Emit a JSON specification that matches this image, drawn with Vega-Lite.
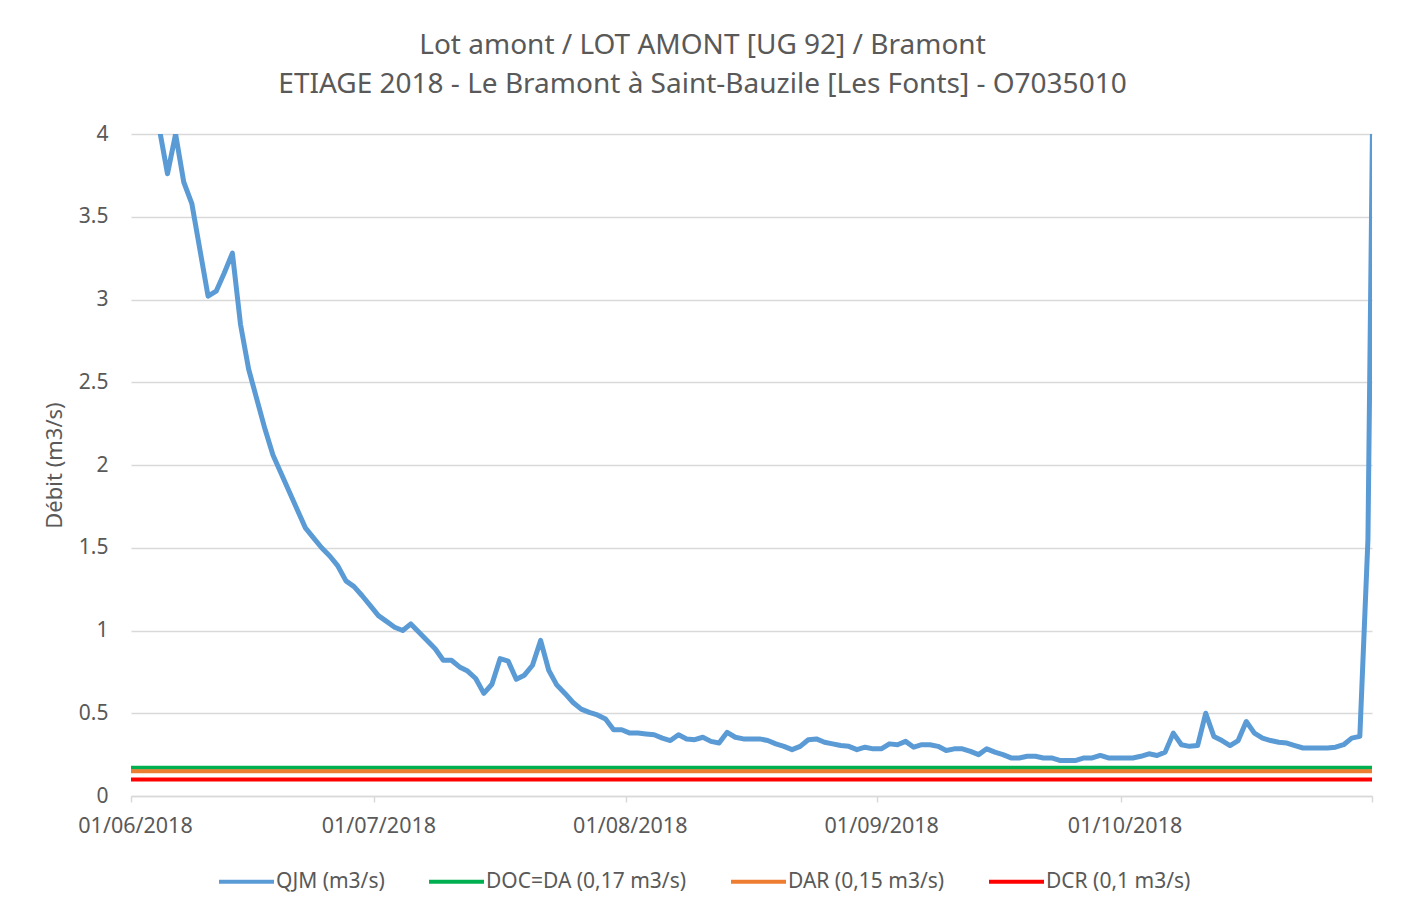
{
  "$schema": "https://vega.github.io/schema/vega-lite/v6.json",
  "width": 1241,
  "height": 662,
  "autosize": {"type": "none"},
  "padding": {"left": 131, "top": 134, "right": 35, "bottom": 120},
  "background": "white",
  "title": {
    "text": ["Lot amont / LOT AMONT [UG 92] / Bramont", "ETIAGE 2018 - Le Bramont à Saint-Bauzile [Les Fonts] - O7035010"],
    "font": "Noto Sans",
    "fontSize": 28,
    "fontWeight": "normal",
    "color": "#595959",
    "lineHeight": 39,
    "anchor": "middle",
    "dx": -49,
    "offset": 24
  },
  "datasets": {
    "seuils": [
      {"serie": "DOC=DA (0,17 m3/s)", "v": 0.17},
      {"serie": "DAR (0,15 m3/s)", "v": 0.15},
      {"serie": "DCR (0,1 m3/s)", "v": 0.1}
    ],
    "qjm": [
      {"date": "2018-06-01", "q": 5.2},
      {"date": "2018-06-02", "q": 4.8},
      {"date": "2018-06-03", "q": 4.4},
      {"date": "2018-06-04", "q": 4.03},
      {"date": "2018-06-05", "q": 3.76},
      {"date": "2018-06-06", "q": 4.0},
      {"date": "2018-06-07", "q": 3.71},
      {"date": "2018-06-08", "q": 3.58},
      {"date": "2018-06-09", "q": 3.3},
      {"date": "2018-06-10", "q": 3.02},
      {"date": "2018-06-11", "q": 3.05},
      {"date": "2018-06-12", "q": 3.16},
      {"date": "2018-06-13", "q": 3.28},
      {"date": "2018-06-14", "q": 2.85},
      {"date": "2018-06-15", "q": 2.58},
      {"date": "2018-06-16", "q": 2.4},
      {"date": "2018-06-17", "q": 2.22},
      {"date": "2018-06-18", "q": 2.06},
      {"date": "2018-06-19", "q": 1.95},
      {"date": "2018-06-20", "q": 1.84},
      {"date": "2018-06-21", "q": 1.73},
      {"date": "2018-06-22", "q": 1.62},
      {"date": "2018-06-23", "q": 1.56},
      {"date": "2018-06-24", "q": 1.5},
      {"date": "2018-06-25", "q": 1.45},
      {"date": "2018-06-26", "q": 1.39},
      {"date": "2018-06-27", "q": 1.3},
      {"date": "2018-06-28", "q": 1.265},
      {"date": "2018-06-29", "q": 1.21},
      {"date": "2018-06-30", "q": 1.15},
      {"date": "2018-07-01", "q": 1.09},
      {"date": "2018-07-02", "q": 1.055},
      {"date": "2018-07-03", "q": 1.02},
      {"date": "2018-07-04", "q": 1.0},
      {"date": "2018-07-05", "q": 1.04},
      {"date": "2018-07-06", "q": 0.99},
      {"date": "2018-07-07", "q": 0.94},
      {"date": "2018-07-08", "q": 0.89},
      {"date": "2018-07-09", "q": 0.82},
      {"date": "2018-07-10", "q": 0.82},
      {"date": "2018-07-11", "q": 0.78},
      {"date": "2018-07-12", "q": 0.755},
      {"date": "2018-07-13", "q": 0.71},
      {"date": "2018-07-14", "q": 0.62},
      {"date": "2018-07-15", "q": 0.675},
      {"date": "2018-07-16", "q": 0.83},
      {"date": "2018-07-17", "q": 0.815},
      {"date": "2018-07-18", "q": 0.705},
      {"date": "2018-07-19", "q": 0.73},
      {"date": "2018-07-20", "q": 0.79},
      {"date": "2018-07-21", "q": 0.94},
      {"date": "2018-07-22", "q": 0.76},
      {"date": "2018-07-23", "q": 0.67},
      {"date": "2018-07-24", "q": 0.62},
      {"date": "2018-07-25", "q": 0.565},
      {"date": "2018-07-26", "q": 0.525},
      {"date": "2018-07-27", "q": 0.505},
      {"date": "2018-07-28", "q": 0.49},
      {"date": "2018-07-29", "q": 0.465},
      {"date": "2018-07-30", "q": 0.4},
      {"date": "2018-07-31", "q": 0.4},
      {"date": "2018-08-01", "q": 0.38},
      {"date": "2018-08-02", "q": 0.38},
      {"date": "2018-08-03", "q": 0.375},
      {"date": "2018-08-04", "q": 0.37},
      {"date": "2018-08-05", "q": 0.35},
      {"date": "2018-08-06", "q": 0.335},
      {"date": "2018-08-07", "q": 0.37},
      {"date": "2018-08-08", "q": 0.345},
      {"date": "2018-08-09", "q": 0.34},
      {"date": "2018-08-10", "q": 0.355},
      {"date": "2018-08-11", "q": 0.33},
      {"date": "2018-08-12", "q": 0.32},
      {"date": "2018-08-13", "q": 0.385},
      {"date": "2018-08-14", "q": 0.355},
      {"date": "2018-08-15", "q": 0.345},
      {"date": "2018-08-16", "q": 0.345},
      {"date": "2018-08-17", "q": 0.345},
      {"date": "2018-08-18", "q": 0.335},
      {"date": "2018-08-19", "q": 0.315},
      {"date": "2018-08-20", "q": 0.3},
      {"date": "2018-08-21", "q": 0.28},
      {"date": "2018-08-22", "q": 0.3},
      {"date": "2018-08-23", "q": 0.34},
      {"date": "2018-08-24", "q": 0.345},
      {"date": "2018-08-25", "q": 0.325},
      {"date": "2018-08-26", "q": 0.315},
      {"date": "2018-08-27", "q": 0.305},
      {"date": "2018-08-28", "q": 0.3},
      {"date": "2018-08-29", "q": 0.28},
      {"date": "2018-08-30", "q": 0.295},
      {"date": "2018-08-31", "q": 0.285},
      {"date": "2018-09-01", "q": 0.285},
      {"date": "2018-09-02", "q": 0.315},
      {"date": "2018-09-03", "q": 0.31},
      {"date": "2018-09-04", "q": 0.33},
      {"date": "2018-09-05", "q": 0.295},
      {"date": "2018-09-06", "q": 0.31},
      {"date": "2018-09-07", "q": 0.31},
      {"date": "2018-09-08", "q": 0.3},
      {"date": "2018-09-09", "q": 0.275},
      {"date": "2018-09-10", "q": 0.285},
      {"date": "2018-09-11", "q": 0.285},
      {"date": "2018-09-12", "q": 0.27},
      {"date": "2018-09-13", "q": 0.25},
      {"date": "2018-09-14", "q": 0.285},
      {"date": "2018-09-15", "q": 0.265},
      {"date": "2018-09-16", "q": 0.25},
      {"date": "2018-09-17", "q": 0.23},
      {"date": "2018-09-18", "q": 0.23},
      {"date": "2018-09-19", "q": 0.24},
      {"date": "2018-09-20", "q": 0.24},
      {"date": "2018-09-21", "q": 0.23},
      {"date": "2018-09-22", "q": 0.23},
      {"date": "2018-09-23", "q": 0.215},
      {"date": "2018-09-24", "q": 0.215},
      {"date": "2018-09-25", "q": 0.215},
      {"date": "2018-09-26", "q": 0.23},
      {"date": "2018-09-27", "q": 0.23},
      {"date": "2018-09-28", "q": 0.245},
      {"date": "2018-09-29", "q": 0.23},
      {"date": "2018-09-30", "q": 0.23},
      {"date": "2018-10-01", "q": 0.23},
      {"date": "2018-10-02", "q": 0.23},
      {"date": "2018-10-03", "q": 0.24},
      {"date": "2018-10-04", "q": 0.255},
      {"date": "2018-10-05", "q": 0.245},
      {"date": "2018-10-06", "q": 0.265},
      {"date": "2018-10-07", "q": 0.38},
      {"date": "2018-10-08", "q": 0.31},
      {"date": "2018-10-09", "q": 0.3},
      {"date": "2018-10-10", "q": 0.305},
      {"date": "2018-10-11", "q": 0.5},
      {"date": "2018-10-12", "q": 0.36},
      {"date": "2018-10-13", "q": 0.335},
      {"date": "2018-10-14", "q": 0.305},
      {"date": "2018-10-15", "q": 0.335},
      {"date": "2018-10-16", "q": 0.45},
      {"date": "2018-10-17", "q": 0.38},
      {"date": "2018-10-18", "q": 0.35},
      {"date": "2018-10-19", "q": 0.335},
      {"date": "2018-10-20", "q": 0.325},
      {"date": "2018-10-21", "q": 0.32},
      {"date": "2018-10-22", "q": 0.305},
      {"date": "2018-10-23", "q": 0.29},
      {"date": "2018-10-24", "q": 0.29},
      {"date": "2018-10-25", "q": 0.29},
      {"date": "2018-10-26", "q": 0.29},
      {"date": "2018-10-27", "q": 0.295},
      {"date": "2018-10-28", "q": 0.31},
      {"date": "2018-10-29", "q": 0.35},
      {"date": "2018-10-30", "q": 0.36},
      {"date": "2018-10-31", "q": 1.55},
      {"date": "2018-11-01", "q": 6.0}
    ]
  },
  "layer": [
    {
      "data": {"name": "seuils"},
      "mark": {"type": "rule", "strokeWidth": 4},
      "encoding": {
        "y": {"field": "v", "type": "quantitative"},
        "color": {
          "field": "serie",
          "type": "nominal",
          "scale": {
            "domain": ["QJM (m3/s)", "DOC=DA (0,17 m3/s)", "DAR (0,15 m3/s)", "DCR (0,1 m3/s)"],
            "range": ["#5b9bd5", "#00b050", "#ed7d31", "#ff0000"]
          },
          "legend": {
            "title": null,
            "orient": "none",
            "direction": "horizontal",
            "legendX": 86,
            "legendY": 718,
            "symbolType": "stroke",
            "symbolSize": 3025,
            "symbolStrokeWidth": 4,
            "labelFont": "Noto Sans",
            "labelFontSize": 21,
            "labelColor": "#595959",
            "labelOffset": 0,
            "labelLimit": 400,
            "columnPadding": 36,
            "padding": 0
          }
        }
      }
    },
    {
      "data": {"name": "qjm"},
      "mark": {"type": "line", "strokeWidth": 5, "clip": true, "strokeJoin": "round"},
      "encoding": {
        "x": {
          "field": "date",
          "type": "temporal",
          "timeUnit": "utcyearmonthdate",
          "bandPosition": 0.5,
          "scale": {
            "domain": [
              {"year": 2018, "month": 6, "date": 1, "utc": true},
              {"year": 2018, "month": 11, "date": 1, "utc": true}
            ]
          },
          "axis": {
            "title": null,
            "grid": false,
            "values": [
              {"year": 2018, "month": 6, "date": 1, "utc": true},
              {"year": 2018, "month": 7, "date": 1, "utc": true},
              {"year": 2018, "month": 8, "date": 1, "utc": true},
              {"year": 2018, "month": 9, "date": 1, "utc": true},
              {"year": 2018, "month": 10, "date": 1, "utc": true},
              {"year": 2018, "month": 11, "date": 1, "utc": true}
            ],
            "format": "%d/%m/%Y",
            "labelExpr": "utcmonth(datum.value) == 10 ? '' : datum.label",
            "labelFont": "Noto Sans",
            "labelFontSize": 21.5,
            "labelColor": "#595959",
            "labelFlush": false,
            "labelOverlap": false,
            "labelPadding": 13,
            "labelOffset": 4,
            "tickSize": 6,
            "tickColor": "#d9d9d9",
            "tickWidth": 1.5,
            "domainColor": "#d9d9d9",
            "domainWidth": 1.5
          }
        },
        "y": {
          "field": "q",
          "type": "quantitative",
          "scale": {"domain": [0, 4], "nice": false, "zero": true},
          "axis": {
            "title": "Débit (m3/s)",
            "titleFont": "Noto Sans",
            "titleFontSize": 22,
            "titleFontWeight": "normal",
            "titleColor": "#595959",
            "titlePadding": 12,
            "values": [0, 0.5, 1, 1.5, 2, 2.5, 3, 3.5, 4],
            "format": "~g",
            "labelFont": "Noto Sans",
            "labelFontSize": 21,
            "labelColor": "#595959",
            "labelPadding": 23,
            "ticks": false,
            "domain": false,
            "grid": true,
            "gridColor": "#d9d9d9",
            "gridWidth": 1.5
          }
        },
        "color": {"datum": "QJM (m3/s)", "type": "nominal"}
      }
    }
  ],
  "config": {
    "view": {"stroke": null},
    "font": "Noto Sans"
  }
}
